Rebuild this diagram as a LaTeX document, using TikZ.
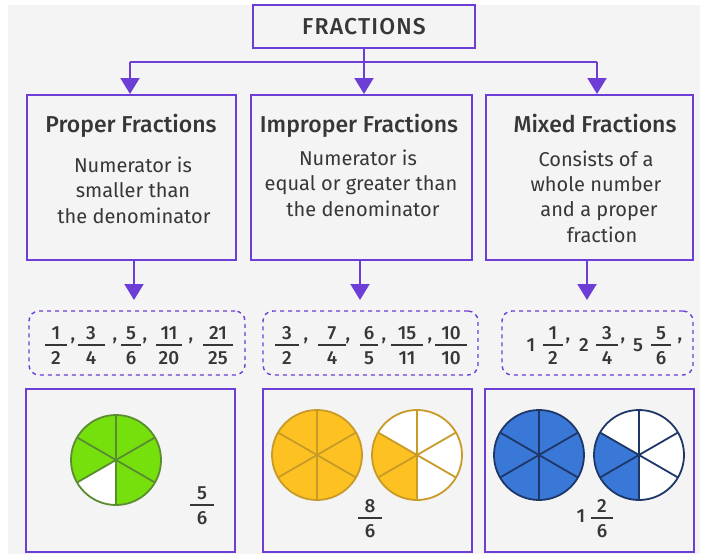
\documentclass[tikz,border=0pt]{standalone}
\usepackage{fontspec}
\setmainfont{Fira Sans}
\newfontfamily\medfont{Fira Sans Medium}
\newfontfamily\topfont{Fira Sans Medium}[LetterSpace=5]
\usetikzlibrary{arrows.meta}
\definecolor{bgc}{RGB}{244,244,244}
\definecolor{purp}{RGB}{108,62,214}
\definecolor{txt}{RGB}{55,55,55}
\definecolor{gfill}{RGB}{118,224,12}
\definecolor{gline}{RGB}{90,140,50}
\definecolor{yfill}{RGB}{253,193,33}
\definecolor{yline}{RGB}{200,155,40}
\definecolor{bfill}{RGB}{58,120,215}
\definecolor{bline}{RGB}{30,55,105}
\tikzset{
  pbox/.style={draw=purp, line width=2pt, inner sep=0pt},
  dbox/.style={draw=purp, line width=1.4pt, dash pattern=on 4pt off 4pt, rounded corners=10pt, inner sep=0pt},
  pline/.style={draw=purp, line width=2pt},
  parrow/.style={draw=purp, line width=2pt, -{Triangle[width=19pt,length=16pt]}, fill=purp},
  titlet/.style={text=txt, font=\medfont\fontsize{23}{27}\selectfont, anchor=base, inner sep=0pt},
  bodyt/.style={text=txt, font=\fontsize{20}{24}\selectfont, anchor=base, inner sep=0pt},
  digit/.style={text=txt, font=\medfont\fontsize{19}{23}\selectfont, inner sep=0pt},
  fbar/.style={draw=txt, line width=1.8pt},
}
\newcommand\fracat[6]{%
  \node[digit] (#1n) at (#2,#3) {#4};
  \node[digit] (#1d) at (#2,#3+25) {#5};
  \draw[fbar] (#2-#6,#3+12) -- (#2+#6,#3+12);}
\newcommand\commaat[3]{\node[digit, anchor=base] (#1) at (#2,#3) {,};}
\newcommand\pieat[8]{% cx cy r bg slice stroke start end
  \fill[#4] (#1,#2) circle[radius=#3pt];
  \fill[#5] (#1,#2) -- ++(#7:#3pt) arc[start angle=#7, end angle=#8, radius=#3pt] -- cycle;
  \draw[#6, line width=1.8pt] (#1,#2) ++(90:#3pt) -- ++(270:2*#3pt);
  \draw[#6, line width=1.8pt] (#1,#2) ++(30:#3pt) -- ++(210:2*#3pt);
  \draw[#6, line width=1.8pt] (#1,#2) ++(150:#3pt) -- ++(330:2*#3pt);
  \draw[#6, line width=1.8pt] (#1,#2) circle[radius=#3pt];}
\begin{document}
\begin{tikzpicture}[x=1pt,y=-1pt]
\useasboundingbox (0,0) rectangle (704,554);
\fill[bgc] (8,5) rectangle (700,554);
% top
\node[pbox, minimum width=222pt, minimum height=43pt, text=txt, font=\topfont\fontsize{23}{27}\selectfont] (top) at (364,26.5) {FRACTIONS};
% category boxes
\node[pbox, minimum width=209pt, minimum height=165pt] (b1) at (131.5,177.5) {};
\node[pbox, minimum width=221pt, minimum height=165pt] (b2) at (361,177.5) {};
\node[pbox, minimum width=207pt, minimum height=165pt] (b3) at (589,177.5) {};
% connectors
\coordinate (j) at (364,62);
\coordinate (jl) at (130,62);
\coordinate (jr) at (597,62);
\draw[pline] (top.south) -- (j);
\draw[pline] (jl) -- (jr);
\draw[parrow] (jl) -- (jl |- b1.north);
\draw[parrow] (j) -- (j |- b2.north);
\draw[parrow] (jr) -- (jr |- b3.north);
% titles
\node[titlet] (t1) at (131,132) {Proper Fractions};
\node[titlet] (t2) at (359,132) {Improper Fractions};
\node[titlet] (t3) at (595,132) {Mixed Fractions};
% body
\node[bodyt] (s1a) at (133,172) {Numerator is};
\node[bodyt] (s1b) at (133,197.5) {smaller than};
\node[bodyt] (s1c) at (134,223) {the denominator};
\node[bodyt] (s2a) at (358,165) {Numerator is};
\node[bodyt] (s2b) at (361,190.5) {equal or greater than};
\node[bodyt] (s2c) at (363,216) {the denominator};
\node[bodyt] (s3a) at (596,166) {Consists of a};
\node[bodyt] (s3b) at (596,191.3) {whole number};
\node[bodyt] (s3c) at (599,216.6) {and a proper};
\node[bodyt] (s3d) at (602,242) {fraction};
% dashed boxes
\node[dbox, minimum width=216pt, minimum height=64pt] (d1) at (137,343) {};
\node[dbox, minimum width=215pt, minimum height=64pt] (d2) at (370.5,343) {};
\node[dbox, minimum width=191pt, minimum height=64pt] (d3) at (597.5,343) {};
\coordinate (k1) at (134,300);
\coordinate (k2) at (360,300);
\coordinate (k3) at (587,300);
\draw[parrow] (k1 |- b1.south) -- (k1);
\draw[parrow] (k2 |- b2.south) -- (k2);
\draw[parrow] (k3 |- b3.south) -- (k3);
% fractions in dashed boxes
\fracat{fa}{56}{333}{1}{2}{11}
\commaat{ca}{73}{340}
\fracat{fb}{91}{333}{3}{4}{13.5}
\commaat{cb}{115}{340}
\fracat{fc}{131}{333}{5}{6}{10}
\commaat{cc}{145}{340}
\fracat{fd}{169}{333}{11}{20}{13}
\commaat{cd}{191}{340}
\fracat{fe}{218}{333}{21}{25}{15}
\fracat{ga}{287}{333}{3}{2}{12}
\commaat{gca}{306}{340}
\fracat{gb}{332}{333}{7}{4}{14}
\commaat{gcb}{348}{340}
\fracat{gc}{369}{333}{6}{5}{9}
\commaat{gcc}{384}{340}
\fracat{gd}{407}{333}{15}{11}{16}
\commaat{gcd}{430}{340}
\fracat{ge}{451}{333}{10}{10}{16}
\node[digit] (w1) at (531,345) {1};
\fracat{ha}{553}{333}{1}{2}{10}
\commaat{hca}{568}{340}
\node[digit] (w2) at (584,345) {2};
\fracat{hb}{607}{333}{3}{4}{11}
\commaat{hcb}{623}{340}
\node[digit] (w3) at (638,345) {5};
\fracat{hc}{661}{333}{5}{6}{10}
\commaat{hcc}{680}{340}
% picture boxes
\node[pbox, minimum width=209pt, minimum height=163pt] (e1) at (130.5,470.5) {};
\node[pbox, minimum width=209pt, minimum height=163pt] (e2) at (367.5,470.5) {};
\node[pbox, minimum width=209pt, minimum height=163pt] (e3) at (589.5,470.5) {};
% pies
\pieat{116}{460}{45}{gfill}{white}{gline}{210}{270}
\pieat{317}{455}{45}{yfill}{yfill}{yline}{0}{360}
\pieat{417}{455}{45}{white}{yfill}{yline}{150}{270}
\pieat{539}{455}{45}{bfill}{bfill}{bline}{0}{360}
\pieat{639}{455}{45}{white}{bfill}{bline}{150}{270}
% bottom fractions
\fracat{pa}{202}{493}{5}{6}{12}
\fracat{pb}{370}{506}{8}{6}{12}
\node[digit] (w4) at (581,516) {1};
\fracat{pc}{602}{506}{2}{6}{11}
\end{tikzpicture}
\end{document}
